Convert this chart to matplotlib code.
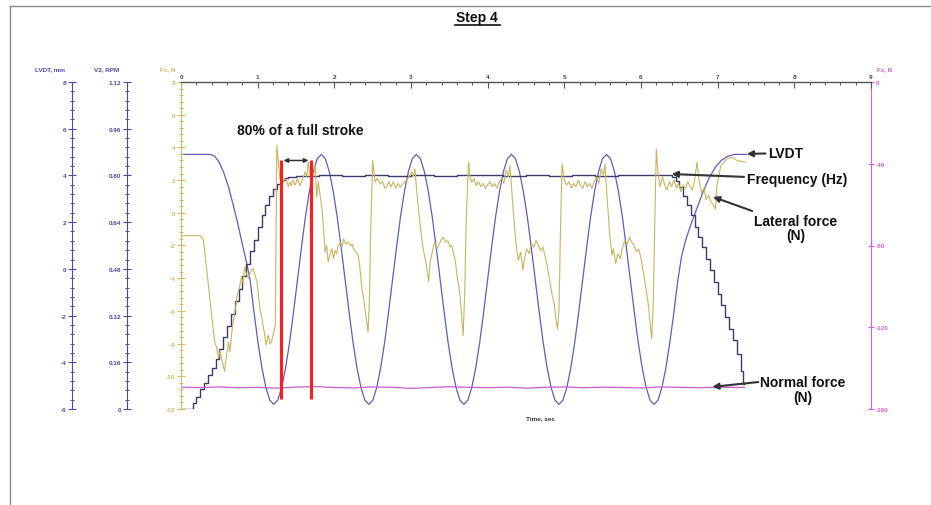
import matplotlib
matplotlib.use("Agg")
import matplotlib.pyplot as plt
from matplotlib.ticker import MultipleLocator, FixedLocator, FuncFormatter
from matplotlib.lines import Line2D

plt.rcParams["font.family"] = ["Liberation Sans", "DejaVu Sans"]
plt.rcParams["font.weight"] = "bold"
plt.rcParams["axes.unicode_minus"] = False

# ---------------- recorded signals (time in s) ----------------
# LVDT displacement, mm
lvdt_samples = [
    (0.00, 4.90), (0.38, 4.90), (0.44, 4.82), (0.50, 4.55), (0.56, 4.10), (0.62, 3.50),
    (0.68, 2.75), (0.74, 1.95), (0.80, 1.05), (0.85, 0.35), (0.900, -0.45), (0.952, -1.84),
    (1.003, -3.13), (1.055, -4.23), (1.107, -5.08), (1.158, -5.62),
    (1.210, -5.80), (1.262, -5.62), (1.313, -5.08), (1.365, -4.23), (1.417, -3.13), (1.468, -1.84),
    (1.520, -0.45), (1.572, 0.94), (1.623, 2.23), (1.675, 3.33), (1.727, 4.18), (1.778, 4.72),
    (1.830, 4.90), (1.882, 4.72), (1.933, 4.18), (1.985, 3.33), (2.037, 2.23), (2.088, 0.94),
    (2.140, -0.45), (2.192, -1.84), (2.243, -3.13), (2.295, -4.23), (2.347, -5.08), (2.398, -5.62),
    (2.450, -5.80), (2.502, -5.62), (2.553, -5.08), (2.605, -4.23), (2.657, -3.13), (2.708, -1.84),
    (2.760, -0.45), (2.812, 0.94), (2.863, 2.23), (2.915, 3.33), (2.967, 4.18), (3.018, 4.72),
    (3.070, 4.90), (3.122, 4.72), (3.173, 4.18), (3.225, 3.33), (3.277, 2.23), (3.328, 0.94),
    (3.380, -0.45), (3.432, -1.84), (3.483, -3.13), (3.535, -4.23), (3.587, -5.08), (3.638, -5.62),
    (3.690, -5.80), (3.742, -5.62), (3.793, -5.08), (3.845, -4.23), (3.897, -3.13), (3.948, -1.84),
    (4.000, -0.45), (4.052, 0.94), (4.103, 2.23), (4.155, 3.33), (4.207, 4.18), (4.258, 4.72),
    (4.310, 4.90), (4.362, 4.72), (4.413, 4.18), (4.465, 3.33), (4.517, 2.23), (4.568, 0.94),
    (4.620, -0.45), (4.672, -1.84), (4.723, -3.13), (4.775, -4.23), (4.827, -5.08), (4.878, -5.62),
    (4.930, -5.80), (4.982, -5.62), (5.033, -5.08), (5.085, -4.23), (5.137, -3.13), (5.188, -1.84),
    (5.240, -0.45), (5.292, 0.94), (5.343, 2.23), (5.395, 3.33), (5.447, 4.18), (5.498, 4.72),
    (5.550, 4.90), (5.602, 4.72), (5.653, 4.18), (5.705, 3.33), (5.757, 2.23), (5.808, 0.94),
    (5.860, -0.45), (5.912, -1.84), (5.963, -3.13), (6.015, -4.23), (6.067, -5.08), (6.118, -5.62),
    (6.170, -5.80), (6.222, -5.62), (6.273, -5.08), (6.325, -4.23), (6.377, -3.13), (6.430, -1.84),
    (6.48, -0.50), (6.53, 0.55), (6.58, 1.20), (6.65, 1.90), (6.73, 2.60), (6.81, 3.30),
    (6.89, 3.90), (6.97, 4.35), (7.05, 4.65), (7.13, 4.82), (7.22, 4.90), (7.38, 4.90),
]

# Rotation frequency, RPM (V2 axis)
freq_samples = [
    (0.00, 0.000), (0.15, 0.020), (0.20, 0.040), (0.25, 0.070), (0.30, 0.090), (0.35, 0.115),
    (0.40, 0.140), (0.45, 0.170), (0.50, 0.205), (0.55, 0.245), (0.60, 0.285), (0.65, 0.325),
    (0.70, 0.370), (0.75, 0.410), (0.80, 0.455), (0.85, 0.495), (0.90, 0.540), (0.95, 0.580),
    (1.00, 0.625), (1.05, 0.665), (1.10, 0.700), (1.15, 0.730), (1.20, 0.755), (1.25, 0.772),
    (1.30, 0.783), (1.35, 0.790), (1.40, 0.795), (1.50, 0.798), (1.80, 0.801), (2.10, 0.798),
    (2.40, 0.802), (2.70, 0.799), (3.00, 0.801), (3.30, 0.797), (3.60, 0.800), (3.90, 0.802),
    (4.20, 0.798), (4.50, 0.801), (4.80, 0.799), (5.10, 0.802), (5.40, 0.798), (5.70, 0.800),
    (6.00, 0.801), (6.35, 0.800), (6.40, 0.795), (6.45, 0.780), (6.50, 0.760), (6.55, 0.730),
    (6.60, 0.700), (6.65, 0.665), (6.70, 0.625), (6.75, 0.590), (6.80, 0.555), (6.85, 0.515),
    (6.90, 0.475), (6.95, 0.435), (7.00, 0.395), (7.05, 0.355), (7.10, 0.315), (7.15, 0.275),
    (7.20, 0.235), (7.25, 0.190), (7.30, 0.130), (7.33, 0.086), (7.35, 0.086),
]

# Lateral force Fx, N
fx_samples = [
    (0.00, -1.40), (0.25, -1.40), (0.29, -1.60), (0.335, -3.44), (0.40, -6.30), (0.44, -7.90),
    (0.47, -8.30), (0.49, -8.90), (0.51, -8.40), (0.53, -9.00), (0.55, -9.30), (0.57, -9.70),
    (0.59, -8.80), (0.62, -7.90), (0.64, -8.50), (0.66, -7.40), (0.68, -6.70), (0.70, -6.20),
    (0.73, -5.10), (0.76, -4.60), (0.79, -3.90), (0.81, -4.30), (0.83, -3.30), (0.85, -3.70),
    (0.88, -4.00), (0.91, -3.60), (0.94, -3.40), (0.97, -3.90), (0.99, -4.20), (1.01, -5.00),
    (1.03, -5.90), (1.05, -6.30), (1.07, -6.90), (1.09, -7.40), (1.11, -8.10), (1.13, -7.60),
    (1.14, -7.50), (1.16, -8.00), (1.18, -7.90), (1.20, -7.50), (1.23, -6.90), (1.25, 4.10),
    (1.27, 3.10), (1.29, 2.07), (1.31, 2.30), (1.33, 1.80), (1.35, 2.10), (1.38, 1.96),
    (1.40, 1.60), (1.42, 1.90), (1.44, 1.66), (1.46, 2.00), (1.49, 1.70), (1.52, 2.10),
    (1.55, 1.66), (1.58, 2.00), (1.62, 2.50), (1.64, 2.20), (1.66, 3.10), (1.68, 2.40),
    (1.70, 2.07), (1.73, 2.30), (1.75, 2.90), (1.77, 0.97), (1.79, 1.90), (1.81, 1.20),
    (1.84, 0.20), (1.86, -1.00), (1.88, -2.40), (1.90, -2.00), (1.92, -3.00), (1.94, -2.60),
    (1.97, -2.20), (1.99, -2.80), (2.01, -2.30), (2.03, -2.50), (2.05, -2.00), (2.08, -1.80),
    (2.10, -2.10), (2.12, -1.60), (2.15, -1.90), (2.18, -1.80), (2.21, -2.00), (2.23, -1.90),
    (2.25, -2.20), (2.28, -2.40), (2.31, -2.60), (2.33, -3.20), (2.36, -4.66), (2.38, -5.20),
    (2.40, -5.90), (2.42, -6.60), (2.44, -7.30), (2.46, -5.00), (2.47, -1.80), (2.50, 3.20),
    (2.53, 1.90), (2.56, 2.10), (2.60, 1.76), (2.63, 1.90), (2.66, 1.50), (2.68, 1.56),
    (2.71, 1.90), (2.74, 1.60), (2.77, 1.90), (2.80, 1.50), (2.83, 1.80), (2.86, 1.56),
    (2.90, 1.80), (2.94, 1.96), (2.97, 2.20), (3.01, 2.50), (3.03, 2.20), (3.05, 2.70),
    (3.08, 1.05), (3.12, -0.80), (3.14, -1.60), (3.16, -2.20), (3.18, -2.70), (3.20, -3.20),
    (3.23, -4.20), (3.25, -3.00), (3.27, -2.60), (3.29, -2.10), (3.31, -1.80), (3.34, -2.20),
    (3.37, -1.90), (3.40, -1.60), (3.42, -1.50), (3.45, -1.80), (3.48, -1.70), (3.51, -2.10),
    (3.53, -2.00), (3.55, -2.40), (3.58, -3.00), (3.60, -3.85), (3.62, -4.40), (3.64, -5.07),
    (3.66, -6.30), (3.68, -7.50), (3.70, -5.00), (3.72, -0.50), (3.75, 3.10), (3.77, 2.20),
    (3.79, 1.86), (3.82, 2.10), (3.85, 1.66), (3.88, 1.90), (3.91, 1.60), (3.94, 1.80),
    (3.97, 1.50), (4.00, 1.70), (4.03, 1.90), (4.06, 1.60), (4.09, 1.80), (4.12, 1.50),
    (4.15, 1.90), (4.18, 2.10), (4.21, 1.80), (4.24, 2.60), (4.27, 2.20), (4.29, 2.90),
    (4.32, 1.00), (4.35, -0.90), (4.38, -2.30), (4.40, -2.90), (4.43, -2.40), (4.46, -3.50),
    (4.48, -2.80), (4.51, -2.20), (4.54, -2.50), (4.57, -1.90), (4.60, -2.10), (4.63, -1.70),
    (4.66, -2.00), (4.69, -2.30), (4.72, -2.10), (4.75, -2.70), (4.78, -3.30), (4.81, -4.20),
    (4.84, -5.00), (4.87, -5.60), (4.89, -6.50), (4.91, -7.10), (4.93, -6.00), (4.95, -1.00),
    (4.97, 3.00), (5.00, 2.00), (5.03, 1.70), (5.06, 1.90), (5.09, 1.50), (5.12, 1.80),
    (5.15, 1.60), (5.18, 2.00), (5.21, 1.70), (5.24, 1.50), (5.27, 1.90), (5.30, 1.60),
    (5.33, 1.80), (5.36, 1.50), (5.39, 1.90), (5.42, 2.20), (5.45, 1.80), (5.48, 2.70),
    (5.51, 2.30), (5.53, 3.00), (5.56, 0.80), (5.59, -1.20), (5.62, -2.60), (5.64, -2.20),
    (5.67, -3.10), (5.70, -2.50), (5.73, -2.80), (5.76, -2.10), (5.79, -1.70), (5.82, -1.90),
    (5.85, -1.50), (5.88, -1.80), (5.91, -2.00), (5.94, -2.40), (5.97, -2.20), (6.00, -2.80),
    (6.03, -3.60), (6.06, -4.50), (6.09, -5.40), (6.12, -6.80), (6.14, -7.70), (6.16, -5.50),
    (6.18, -0.50), (6.20, 3.90), (6.22, 2.50), (6.25, 1.60), (6.28, 2.20), (6.31, 1.70),
    (6.34, 1.40), (6.37, 1.90), (6.40, 1.60), (6.43, 2.00), (6.46, 1.50), (6.49, 1.80),
    (6.52, 1.30), (6.55, 1.70), (6.58, 1.50), (6.61, 1.90), (6.64, 1.60), (6.67, 1.40),
    (6.70, 2.00), (6.73, 3.10), (6.76, 1.90), (6.79, 1.20), (6.82, 1.50), (6.85, 0.80),
    (6.88, 1.10), (6.91, 0.70), (6.94, 0.50), (6.97, 0.23), (6.99, 1.64), (7.04, 2.86),
    (7.12, 3.30), (7.19, 3.40), (7.25, 3.20), (7.30, 3.15), (7.36, 3.10),
]

# Normal force Fz, N
fz_samples = [
    (0.00, -149.3), (0.25, -149.5), (0.50, -149.2), (0.75, -149.6), (1.00, -149.4),
    (1.25, -149.8), (1.50, -149.3), (1.75, -149.0), (2.00, -149.5), (2.25, -149.7),
    (2.50, -149.2), (2.75, -149.4), (3.00, -149.9), (3.25, -149.5), (3.50, -149.1),
    (3.75, -149.4), (4.00, -149.6), (4.25, -149.3), (4.50, -149.8), (4.75, -149.4),
    (5.00, -149.2), (5.25, -149.6), (5.50, -149.3), (5.75, -149.5), (6.00, -149.7),
    (6.25, -149.2), (6.50, -149.4), (6.75, -149.6), (7.00, -149.3), (7.25, -149.5),
    (7.35, -149.4),
]

# Stroke window marked on the Fx scale
stroke_t = [1.31, 1.69]
stroke_fx = (-11.4, 3.25)

# ---------------- figure layout ----------------
W, H = 931, 506
fig = plt.figure(figsize=(W / 100, H / 100), dpi=100)
fig.patch.set_facecolor("white")


def fxp(px):
    return px / W


def fyp(py):
    return 1 - py / H


# page frame lines
fig.add_artist(Line2D([fxp(10), fxp(10)], [0, fyp(7)], color="#8a8a8a", lw=1.0))
fig.add_artist(Line2D([fxp(10), 1], [fyp(7), fyp(7)], color="#8a8a8a", lw=1.0))

L, R, T, B = 181, 871, 83, 410
ax = fig.add_axes([fxp(L), fyp(B), fxp(R) - fxp(L), fyp(T) - fyp(B)])
ax_lvdt = ax.twinx()
ax_rpm = ax.twinx()
ax_fz = ax.twinx()
ax.set_zorder(ax_fz.get_zorder() + 1)
ax.patch.set_visible(False)

C_LVDT_AX = "#4a4ab6"
C_RPM_AX = "#4a4a9e"
C_FX = "#cdb865"
C_FZ = "#dc5cdc"
C_TIME = "#555555"

C_LVDT = "#5e5eba"
C_FREQ = "#3c3c6c"
C_FXL = "#c9b45e"
C_FZL = "#c95ccf"
C_RED = "#ff1c1c"
C_ANN = "#333333"

fs_tick = 4.6


def num(v, _):
    if abs(v) < 1e-9:
        return "0"
    return f"{v:g}"


# main axes: time (top) and Fx (left)
ax.set_xlim(0, 9)
ax.set_ylim(-12, 8)
ax.xaxis.set_ticks_position("top")
ax.xaxis.set_major_locator(MultipleLocator(1))
ax.xaxis.set_minor_locator(MultipleLocator(0.2))
ax.xaxis.set_major_formatter(FuncFormatter(num))
ax.tick_params(axis="x", which="major", direction="in", length=4, width=0.8,
               color=C_TIME, labelcolor="#444444", labelsize=fs_tick, pad=2.5)
ax.tick_params(axis="x", which="minor", direction="in", length=2.5, width=0.7, color=C_TIME)
ax.yaxis.set_major_locator(MultipleLocator(2))
ax.yaxis.set_minor_locator(MultipleLocator(0.4))
ax.yaxis.set_major_formatter(FuncFormatter(num))
ax.tick_params(axis="y", which="major", direction="inout", length=6, width=0.8,
               color=C_FX, labelcolor=C_FX, labelsize=fs_tick, pad=1)
ax.tick_params(axis="y", which="minor", direction="inout", length=3.5, width=0.7, color=C_FX)
ax.spines["left"].set_color(C_FX)
ax.spines["top"].set_color(C_TIME)
ax.spines["top"].set_linewidth(1.0)
ax.spines["right"].set_visible(False)
ax.spines["bottom"].set_visible(False)

# left-hand LVDT and RPM axes
for a, off, col in ((ax_lvdt, (72 - L) / (R - L), C_LVDT_AX),
                    (ax_rpm, (126.5 - L) / (R - L), C_RPM_AX)):
    a.yaxis.tick_left()
    a.spines["left"].set_visible(True)
    a.spines["left"].set_position(("axes", off))
    a.spines["left"].set_color(col)
    for s in ("right", "top", "bottom"):
        a.spines[s].set_visible(False)
    a.tick_params(axis="y", which="major", direction="inout", length=6, width=0.8,
                  color=col, labelcolor=col, labelsize=fs_tick, pad=1)
    a.tick_params(axis="y", which="minor", direction="inout", length=3.5, width=0.7, color=col)

ax_lvdt.set_ylim(-6, 8)
ax_lvdt.yaxis.set_major_locator(MultipleLocator(2))
ax_lvdt.yaxis.set_minor_locator(MultipleLocator(0.4))
ax_lvdt.yaxis.set_major_formatter(FuncFormatter(num))

ax_rpm.set_ylim(0, 1.12)
ax_rpm.yaxis.set_major_locator(FixedLocator([round(0.16 * i, 2) for i in range(8)]))
ax_rpm.yaxis.set_minor_locator(FixedLocator([round(0.032 * i, 3) for i in range(36)]))
ax_rpm.yaxis.set_major_formatter(FuncFormatter(lambda v, _: "0" if abs(v) < 1e-9 else f"{v:.2f}"))

# right-hand Fz axis
ax_fz.set_ylim(-160, 0)
ax_fz.yaxis.set_major_locator(MultipleLocator(40))
ax_fz.yaxis.set_major_formatter(FuncFormatter(num))
for s in ("left", "top", "bottom"):
    ax_fz.spines[s].set_visible(False)
ax_fz.spines["right"].set_color(C_FZ)
ax_fz.tick_params(axis="y", which="major", direction="inout", length=4, width=0.8,
                  color=C_FZ, labelcolor=C_FZ, labelsize=fs_tick, pad=1.5)

# ---------------- curves ----------------
t, v = zip(*fz_samples)
ax_fz.plot(t, v, color=C_FZL, lw=0.9)

t, v = zip(*freq_samples)
ax_rpm.plot(t, v, color=C_FREQ, lw=1.0, drawstyle="steps-post")

t, v = zip(*lvdt_samples)
ax_lvdt.plot(t, v, color=C_LVDT, lw=0.9)

t, v = zip(*fx_samples)
ax.plot(t, v, color=C_FXL, lw=0.8)

ax.vlines(stroke_t, stroke_fx[0], stroke_fx[1], color=C_RED, lw=2.2, zorder=5)
ax.annotate("", xy=(stroke_t[0], stroke_fx[1] - 0.05), xytext=(stroke_t[1], stroke_fx[1] - 0.05),
            arrowprops=dict(arrowstyle="<|-|>", color=C_ANN, lw=1.1, mutation_scale=6,
                            shrinkA=1.5, shrinkB=1.5), zorder=6)
ax.text(0.73, 5.06, "80% of a full stroke", fontsize=10, fontweight="bold",
        color="#111111", ha="left", va="center")

arrow = dict(arrowstyle="-|>", color=C_ANN, lw=1.5, mutation_scale=9, shrinkA=0, shrinkB=0)
ax.annotate("LVDT", xy=(7.38, 3.60), xytext=(7.66, 3.66), fontsize=10, color="#111111",
            ha="left", va="center", arrowprops=arrow, annotation_clip=False)
ax.annotate("Frequency (Hz)", xy=(6.40, 2.37), xytext=(7.38, 2.07), fontsize=10,
            color="#111111", ha="left", va="center", arrowprops=arrow, annotation_clip=False)
ax.annotate("", xy=(6.94, 0.97), xytext=(7.45, 0.11), arrowprops=arrow, annotation_clip=False)
ax.text(8.02, -0.07, "Lateral force\n(N)", fontsize=10, color="#111111", ha="center",
        va="top", linespacing=1.05)
ax.annotate("", xy=(6.93, -10.65), xytext=(7.53, -10.35), arrowprops=arrow, annotation_clip=False)
ax.text(8.11, -9.95, "Normal force\n(N)", fontsize=10, color="#111111", ha="center",
        va="top", linespacing=1.05)

# ---------------- axis captions and title ----------------
cap = dict(fontsize=4.6, fontweight="bold", ha="center", va="center")
fig.text(fxp(50), fyp(70), "LVDT, mm", color=C_LVDT_AX, **cap)
fig.text(fxp(107), fyp(70), "V2, RPM", color=C_RPM_AX, **cap)
fig.text(fxp(168), fyp(70), "Fx, N", color=C_FX, **cap)
fig.text(fxp(885), fyp(70), "Fz, N", color=C_FZ, **cap)
fig.text(fxp(540), fyp(419), "Time, sec", color="#333333", **cap)

fig.text(fxp(477), fyp(18), "Step 4", fontsize=10, fontweight="bold", color="#111111",
         ha="center", va="center")
fig.add_artist(Line2D([fxp(455), fxp(500)], [fyp(25.5), fyp(25.5)], color="#111111", lw=1.2))

fig.savefig("out.png", dpi=100, facecolor="white")
